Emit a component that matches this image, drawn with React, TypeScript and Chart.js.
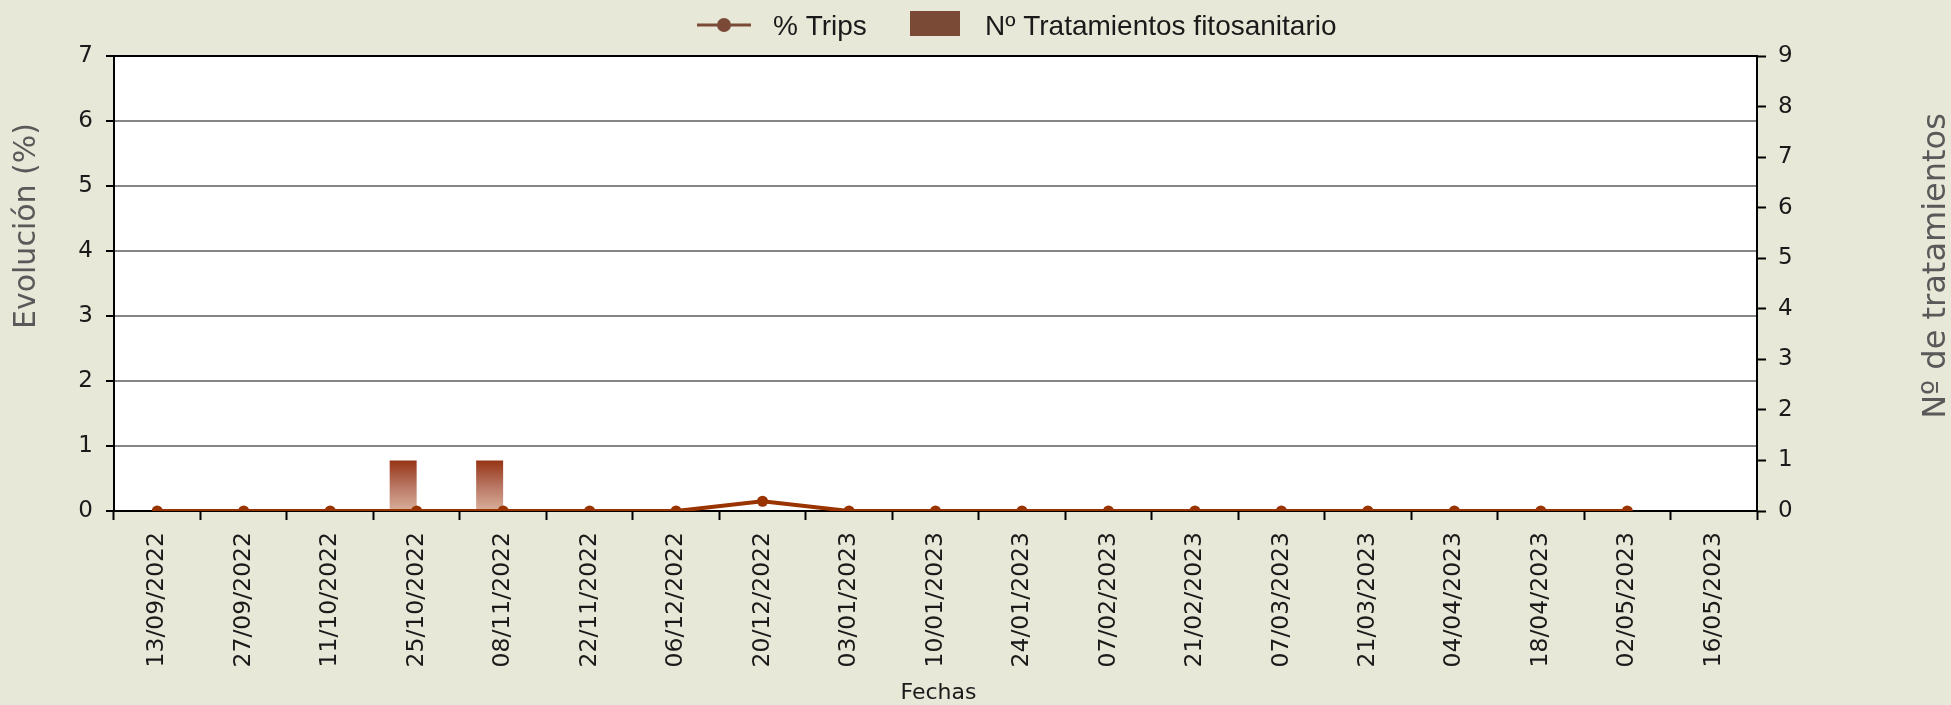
import React, { useEffect, useRef } from 'react';
import { Chart, registerables } from 'chart.js';

Chart.register(...registerables);

const categories = [
  '13/09/2022', '27/09/2022', '11/10/2022', '25/10/2022', '08/11/2022', '22/11/2022',
  '06/12/2022', '20/12/2022', '03/01/2023', '10/01/2023', '24/01/2023', '07/02/2023',
  '21/02/2023', '07/03/2023', '21/03/2023', '04/04/2023', '18/04/2023', '02/05/2023',
  '16/05/2023',
];
const tripsPct = [0, 0, 0, 0, 0, 0, 0, 0.15, 0, 0, 0, 0, 0, 0, 0, 0, 0, 0, null];
const treatments = [null, null, null, 1, 1, null, null, null, null, null, null, null, null, null, null, null, null, null, null];
const spacer = categories.map(() => null);

const leftAxisMax = 7;
const rightAxisMax = 9;

const lineLabel = '% Trips';
const barLabel = 'Nº Tratamientos fitosanitario';
const leftTitle = 'Evolución (%)';
const rightTitle = 'Nº de tratamientos';
const xTitle = 'Fechas';

const W = 1951;
const H = 705;
const TICK_FONT = '"DejaVu Sans", sans-serif';
const LEGEND_FONT = '"Liberation Sans", Arial, sans-serif';

const overlay = {
  id: 'overlay',
  beforeDraw(chart: any) {
    const { ctx, chartArea } = chart;
    ctx.save();
    ctx.fillStyle = '#e8e8d8';
    ctx.fillRect(0, 0, chart.width, chart.height);
    ctx.fillStyle = '#ffffff';
    ctx.fillRect(chartArea.left, chartArea.top, chartArea.right - chartArea.left, chartArea.bottom - chartArea.top);
    ctx.restore();
  },
  afterDraw(chart: any) {
    const { ctx, chartArea } = chart;
    ctx.save();
    // legend
    const ly = 25;
    ctx.strokeStyle = '#7b4a36';
    ctx.lineWidth = 3;
    ctx.beginPath();
    ctx.moveTo(697, ly);
    ctx.lineTo(751, ly);
    ctx.stroke();
    ctx.fillStyle = '#7b4a36';
    ctx.beginPath();
    ctx.arc(724, ly, 7, 0, Math.PI * 2);
    ctx.fill();
    ctx.font = '28px ' + LEGEND_FONT;
    ctx.fillStyle = '#1a1a1a';
    ctx.textBaseline = 'alphabetic';
    ctx.textAlign = 'left';
    ctx.fillText(lineLabel, 773, 35);
    ctx.fillStyle = '#7b4a36';
    ctx.fillRect(910, 11, 50, 25);
    ctx.fillStyle = '#1a1a1a';
    ctx.fillText(barLabel, 985, 35);

    // x title
    ctx.textBaseline = 'middle';
    ctx.font = '22px ' + TICK_FONT;
    ctx.textAlign = 'center';
    ctx.fillStyle = '#1a1a1a';
    ctx.fillText(xTitle, (chartArea.left + chartArea.right) / 2 + 3, 693);

    // left title
    ctx.font = '30px ' + TICK_FONT;
    ctx.fillStyle = '#595959';
    ctx.save();
    ctx.translate(27, 226);
    ctx.rotate(-Math.PI / 2);
    ctx.fillText(leftTitle, 0, 0);
    ctx.restore();

    // right title
    ctx.font = '32px ' + TICK_FONT;
    ctx.save();
    ctx.translate(1937, 266);
    ctx.rotate(-Math.PI / 2);
    ctx.fillText(rightTitle, 0, 0);
    ctx.restore();
    ctx.restore();
  },
};

export default function App() {
  const ref = useRef<HTMLCanvasElement | null>(null);

  useEffect(() => {
    document.body.style.margin = '0';
    const canvas = ref.current;
    if (!canvas) return;

    const barGradient = (c: any) => {
      const chart = c.chart;
      const { chartArea, scales } = chart;
      if (!chartArea || !scales.y2) return '#a0522d';
      const top = scales.y2.getPixelForValue(1);
      const bottom = scales.y2.getPixelForValue(0);
      const g = chart.ctx.createLinearGradient(0, top, 0, bottom);
      g.addColorStop(0, '#963414');
      g.addColorStop(0.5, '#b87562');
      g.addColorStop(1, '#d9b09c');
      return g;
    };

    const chart = new Chart(canvas, {
      type: 'bar',
      data: {
        labels: categories,
        datasets: [
          {
            type: 'line',
            label: lineLabel,
            data: tripsPct,
            yAxisID: 'y',
            borderColor: '#993300',
            backgroundColor: '#993300',
            borderWidth: 4,
            pointRadius: 5.5,
            pointHoverRadius: 5.5,
            pointBorderWidth: 0,
            pointBackgroundColor: '#993300',
            tension: 0,
            order: 0,
            spanGaps: false,
          } as any,
          {
            type: 'bar',
            label: barLabel,
            data: treatments,
            yAxisID: 'y2',
            backgroundColor: barGradient,
            borderWidth: 0,
            categoryPercentage: 0.624,
            barPercentage: 1,
            order: 1,
          },
          {
            type: 'bar',
            label: '',
            data: spacer,
            yAxisID: 'y2',
            backgroundColor: 'transparent',
            borderWidth: 0,
            categoryPercentage: 0.624,
            barPercentage: 1,
            order: 2,
          },
        ],
      },
      options: {
        responsive: false,
        animation: false,
        devicePixelRatio: 1,
        layout: { padding: { top: 56, left: 0, right: 0, bottom: 0 } },
        plugins: {
          legend: { display: false },
          tooltip: { enabled: false },
          title: { display: false },
        },
        scales: {
          x: {
            offset: true,
            grid: {
              offset: true,
              drawOnChartArea: false,
              drawTicks: true,
              tickLength: 9,
              tickColor: '#000',
              tickWidth: 2,
            },
            border: { display: true, color: '#000', width: 2 },
            ticks: {
              autoSkip: false,
              minRotation: 90,
              maxRotation: 90,
              padding: 12,
              color: '#1a1a1a',
              font: { family: TICK_FONT, size: 23.5 },
            },
            afterFit: (s: any) => { s.height = 194; },
          },
          y: {
            position: 'left',
            min: 0,
            max: leftAxisMax,
            ticks: {
              stepSize: 1,
              padding: 13,
              color: '#1a1a1a',
              font: { family: TICK_FONT, size: 23 },
            },
            grid: {
              color: (c: any) => (c.tick && (c.tick.value === leftAxisMax || c.tick.value === 0) ? '#000' : '#858585'),
              lineWidth: 2,
              tickLength: 8,
              tickColor: '#000',
              tickWidth: 2,
            },
            border: { display: true, color: '#000', width: 2 },
            afterFit: (s: any) => { s.width = 114; },
          },
          y2: {
            position: 'right',
            min: 0,
            max: rightAxisMax,
            ticks: {
              stepSize: 1,
              padding: 12,
              color: '#1a1a1a',
              font: { family: TICK_FONT, size: 23 },
            },
            grid: {
              drawOnChartArea: false,
              tickLength: 9,
              tickColor: '#000',
              tickWidth: 2,
            },
            border: { display: true, color: '#000', width: 2 },
            afterFit: (s: any) => { s.width = 194; },
          },
        },
      } as any,
      plugins: [overlay],
    });

    return () => chart.destroy();
  }, []);

  return (
    <div style={{ width: W, height: H }}>
      <canvas ref={ref} width={W} height={H} style={{ display: 'block' }} />
    </div>
  );
}
